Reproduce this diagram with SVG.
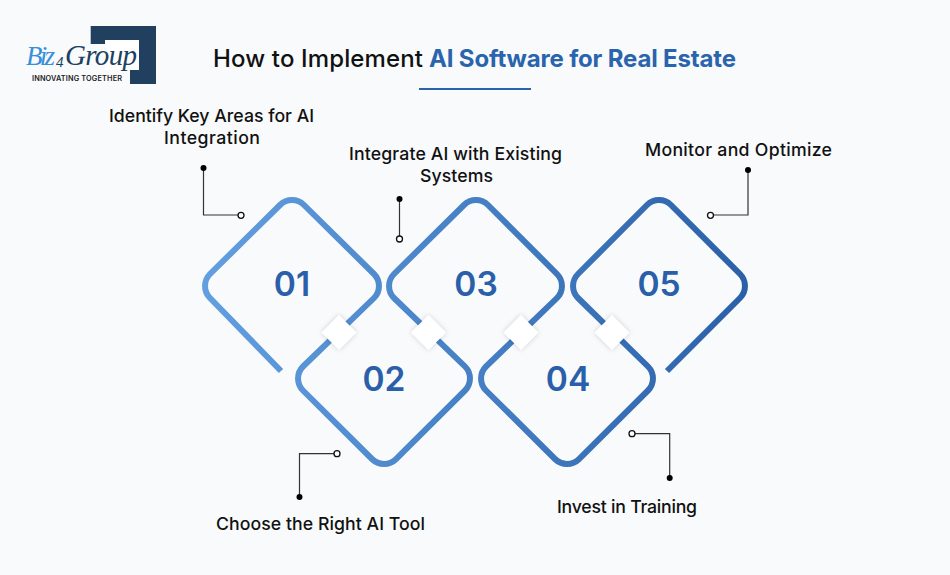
<svg xmlns="http://www.w3.org/2000/svg" width="950" height="575" viewBox="0 0 950 575">
<style>
text{font-family:"Inter","Open Sans","Liberation Sans",sans-serif}
.lab{font-size:17.7px;font-weight:500;fill:#111}
.num{font-size:33.500px;font-weight:600;fill:#2a5fa9;text-anchor:middle}
.ttl{font-size:24px;font-weight:500;fill:#111}
.ln{fill:none;stroke:#333;stroke-width:1.2}
.open{fill:#fff;stroke:#111;stroke-width:1.3}
.sq{fill:#fff;filter:url(#sh)}
.lg{font-family:"Liberation Serif",serif;font-style:italic}
</style>
<defs>
<linearGradient id="g" gradientUnits="userSpaceOnUse" x1="203" y1="0" x2="750" y2="0">
<stop offset="0" stop-color="#629fe0"/><stop offset="1" stop-color="#2a60a8"/>
</linearGradient>
<filter id="sh" x="-40%" y="-40%" width="180%" height="180%"><feDropShadow dx="0" dy="0" stdDeviation="2.500" flood-color="#000" flood-opacity=".18"/></filter>
</defs>
<rect width="950" height="575" fill="#f8fafc"/>
<g id="logo">
<rect x="105" y="40" width="34" height="30" fill="#fff"/>
<polygon points="90.7,26 156,26 156,84 130,84 130,70 139,70 139,40 105,40 105,44 90.7,44" fill="#213f5f"/>
<text x="26" y="65" font-size="27" class="lg" fill="#3a8fdc" textLength="29">Biz</text>
<text x="56" y="67" font-size="15" class="lg" fill="#213f5f">4</text>
<text x="65" y="65" font-size="29" class="lg" fill="#213f5f" textLength="72">Group</text>
<text x="32" y="81" font-size="7.300" font-weight="600" fill="#222" textLength="90">INNOVATING TOGETHER</text>
</g>
<g id="title">
<text x="213" y="67" class="ttl" textLength="210">How to Implement</text>
<text x="429" y="67" class="ttl" style="font-weight:700;fill:#2a64ad" textLength="307">AI Software for Real Estate</text>
<rect x="419" y="88" width="112" height="2" fill="#2a64ad"/>
</g>
<g id="connectors">
<path id="wave" fill="none" stroke="url(#g)" stroke-width="6" d="M281 371L210 298A17 17 0 0 1 210 274L280 205A17 17 0 0 1 304 205L374 274A17 17 0 0 1 374 298L303 366.500A17 17 0 0 0 303 390.500L372 459A17 17 0 0 0 396 459L465 390.500A17 17 0 0 0 465 366.500L394 298A17 17 0 0 1 394 274L464 205A17 17 0 0 1 488 205L557 274A17 17 0 0 1 557 298L486 366.500A17 17 0 0 0 486 390.500L555 459A17 17 0 0 0 579 459L648 390.500A17 17 0 0 0 648 366.500L578 298A17 17 0 0 1 578 274L647 205A17 17 0 0 1 671 205L740 274A17 17 0 0 1 740 298L667 371"/>
<path class="ln" d="M203.500 168V215H241"/>
<circle cx="203.500" cy="168" r="3"/><circle class="open" cx="241" cy="215.300" r="3"/>
<path class="ln" d="M399.500 199V239"/>
<circle cx="399.500" cy="199" r="3"/><circle class="open" cx="399.500" cy="239" r="3"/>
<path class="ln" d="M337 453.700H299.500V497"/>
<circle cx="299.500" cy="497" r="3"/><circle class="open" cx="337" cy="453.700" r="3"/>
<path class="ln" d="M632 433.700H669.700V478"/>
<circle cx="669.700" cy="478" r="3"/><circle class="open" cx="632" cy="433.700" r="3"/>
<path class="ln" d="M748 170V215H710.500"/>
<circle cx="748" cy="170" r="3"/><circle class="open" cx="710.500" cy="215.300" r="3"/>
</g>
<g id="node1"><polygon class="sq" points="339,315 356.500,332.500 339,350 321.500,332.500"/><text class="num" x="292" y="296">01</text>
<text class="lab"><tspan x="109" y="122" textLength="205">Identify Key Areas for AI</tspan></text><text class="lab" x="164" y="144" textLength="96">Integration</text></g>
<g id="node2"><polygon class="sq" points="428.500,315 446,332.500 428.500,350 411,332.500"/><text class="num" x="384" y="391">02</text>
<text class="lab" x="216" y="530" textLength="209">Choose the Right AI Tool</text></g>
<g id="node3"><polygon class="sq" points="521,315 538.500,332.500 521,350 503.500,332.500"/><text class="num" x="476" y="296">03</text>
<text class="lab" x="349" y="160" textLength="213">Integrate AI with Existing</text><text class="lab" x="420" y="182" textLength="73">Systems</text></g>
<g id="node4"><polygon class="sq" points="612,315 629.500,332.500 612,350 594.500,332.500"/><text class="num" x="568" y="391">04</text>
<text class="lab" x="557" y="513" textLength="140">Invest in Training</text></g>
<g id="node5"><text class="num" x="659" y="296">05</text>
<text class="lab" x="645" y="155.500" textLength="187">Monitor and Optimize</text></g>
</svg>
